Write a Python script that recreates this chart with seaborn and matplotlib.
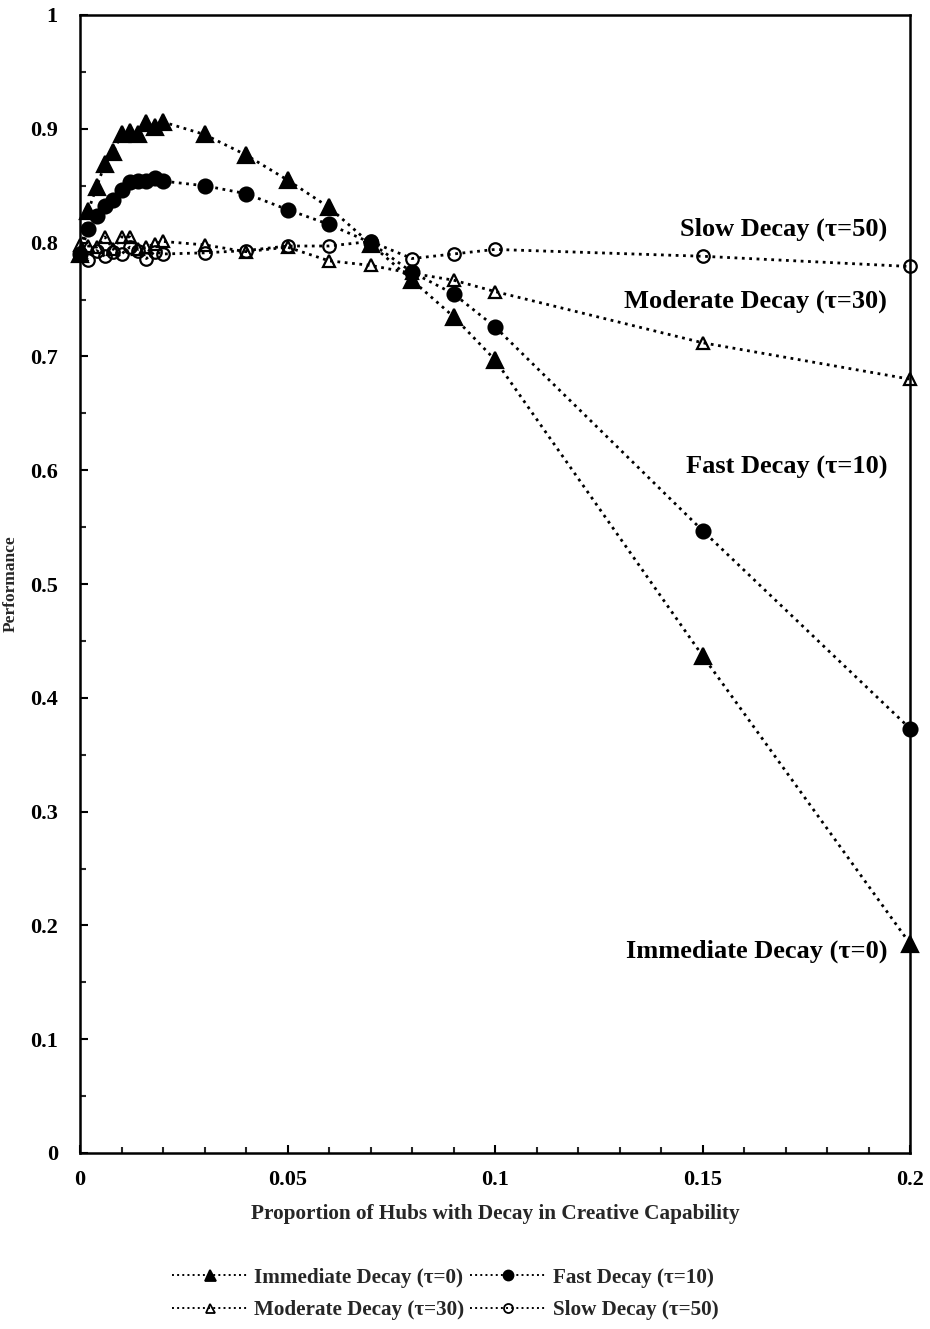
import numpy as np
import pandas as pd
import matplotlib
matplotlib.use("Agg")
import matplotlib.pyplot as plt
import seaborn as sns
from matplotlib.ticker import MultipleLocator, FixedLocator
from matplotlib.lines import Line2D

# Proportion of hubs with decay
x_vals = [0, 0.002, 0.004, 0.006, 0.008, 0.01, 0.012, 0.014, 0.016, 0.018, 0.02,
          0.03, 0.04, 0.05, 0.06, 0.07, 0.08, 0.09, 0.1, 0.15, 0.2]

immediate = [0.790, 0.828, 0.849, 0.869, 0.880, 0.895, 0.897, 0.895, 0.905, 0.902, 0.906,
             0.895, 0.877, 0.855, 0.831, 0.799, 0.767, 0.735, 0.697, 0.437, 0.184]
fast = [0.790, 0.812, 0.823, 0.832, 0.837, 0.846, 0.853, 0.854, 0.854, 0.857, 0.854,
        0.850, 0.843, 0.829, 0.816, 0.800, 0.774, 0.755, 0.726, 0.547, 0.373]
moderate = [0.798, 0.797, 0.796, 0.805, 0.794, 0.805, 0.805, 0.794, 0.796, 0.799, 0.801,
            0.798, 0.792, 0.796, 0.784, 0.780, 0.773, 0.767, 0.757, 0.712, 0.680]
slow = [0.790, 0.785, 0.793, 0.788, 0.792, 0.790, 0.796, 0.793, 0.786, 0.792, 0.790,
        0.791, 0.793, 0.797, 0.797, 0.801, 0.786, 0.790, 0.794, 0.788, 0.779]

series_names = ["Immediate Decay (\u03c4=0)", "Fast Decay (\u03c4=10)",
                "Moderate Decay (\u03c4=30)", "Slow Decay (\u03c4=50)"]
x_ticks = [0, 0.05, 0.1, 0.15, 0.2]
x_tick_labels = ["0", "0.05", "0.1", "0.15", "0.2"]
y_ticks = [0, 0.1, 0.2, 0.3, 0.4, 0.5, 0.6, 0.7, 0.8, 0.9, 1.0]
y_tick_labels = ["0", "0.1", "0.2", "0.3", "0.4", "0.5", "0.6", "0.7", "0.8", "0.9", "1"]

sns.set_theme(style="ticks")
plt.rcParams["font.family"] = ["Liberation Serif", "DejaVu Serif"]
plt.rcParams["font.weight"] = "bold"

fig = plt.figure(figsize=(9.3, 13.29), dpi=100)
ax = fig.add_axes([80 / 930, 1 - 1153 / 1329, 830 / 930, 1138 / 1329])

styles = [
    dict(marker="^", mfc="black", ms=11),
    dict(marker="o", mfc="black", ms=10),
    dict(marker="^", mfc="none", ms=9),
    dict(marker="o", mfc="none", ms=9),
]
all_y = [immediate, fast, moderate, slow]

for name, yv, st in zip(series_names, all_y, styles):
    df = pd.DataFrame({"x": x_vals, "y": yv})
    sns.lineplot(data=df, x="x", y="y", ax=ax, color="black", linestyle=":",
                 linewidth=2.0, marker=st["marker"], markersize=st["ms"],
                 markerfacecolor=st["mfc"], markeredgecolor="black",
                 markeredgewidth=1.6, clip_on=False, zorder=3)

ax.set_xlim(0, 0.2)
ax.set_ylim(0, 1)
ax.xaxis.set_major_locator(FixedLocator(x_ticks))
ax.set_xticklabels(x_tick_labels)
ax.yaxis.set_major_locator(FixedLocator(y_ticks))
ax.set_yticklabels(y_tick_labels)
ax.xaxis.set_minor_locator(MultipleLocator(0.01))
ax.yaxis.set_minor_locator(MultipleLocator(0.05))
ax.tick_params(which="major", direction="in", length=6, width=1.5,
               labelsize=16, colors="black")
ax.tick_params(axis="y", which="major", pad=16)
ax.tick_params(axis="x", which="major", pad=12)
ax.tick_params(which="minor", direction="in", length=4, width=1.5)
for lbl in ax.get_xticklabels() + ax.get_yticklabels():
    lbl.set_fontweight("bold")

for side in ["left", "bottom", "right", "top"]:
    ax.spines[side].set_linewidth(1.8)
    ax.spines[side].set_color("black")

ax.set_xlabel("Proportion of Hubs with Decay in Creative Capability",
              fontsize=15.3, fontweight="bold", labelpad=10)
ax.set_ylabel("Performance", fontsize=12.5, fontweight="bold")
ax.yaxis.set_label_coords(-0.074, 0.5)

# Curve labels at the right end of each series
label_y = [0.177, 0.602, 0.748, 0.812]
for name, ly in zip(series_names, label_y):
    ax.text(0.1945, ly, name, ha="right", va="center", fontsize=19,
            fontweight="bold", color="black")

handles = [Line2D([0], [0], color="black", linestyle=":", linewidth=1.4,
                  marker=st["marker"], markersize=st["ms"] * 0.72,
                  markerfacecolor=st["mfc"], markeredgecolor="black",
                  markeredgewidth=1.3) for st in styles]
# two columns filled row by row: Immediate, Fast / Moderate, Slow
order = [0, 2, 1, 3]
fig.legend([handles[i] for i in order], [series_names[i] for i in order],
           loc="center", ncol=2,
           bbox_to_anchor=(445 / 930, 1 - 1294 / 1329), frameon=False,
           prop={"size": 15.2, "weight": "bold"}, handlelength=3.6,
           columnspacing=0.3, handletextpad=0.3, labelspacing=0.6)

fig.savefig("out.png", dpi=100, facecolor="white")
